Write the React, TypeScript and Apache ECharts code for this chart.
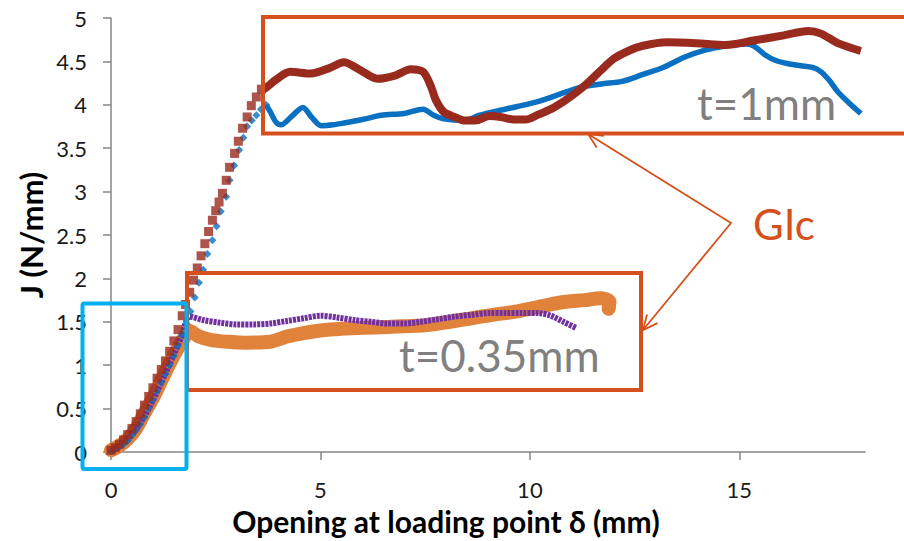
import React, { useEffect, useRef } from "react";
import * as echarts from "echarts";

// ---- Data ----
// t = 1 mm, specimen A (blue diamonds)
const blueRiseX = [0, 0.1, 0.2, 0.3, 0.4, 0.5, 0.6, 0.7, 0.8, 0.9, 1.0, 1.1, 1.2, 1.3, 1.4, 1.5, 1.6, 1.7, 1.8, 1.9, 2.0, 2.1, 2.2, 2.3, 2.42, 2.52, 2.62, 2.75, 2.83, 2.94, 3.06, 3.16, 3.25, 3.36, 3.47, 3.58, 3.7];
const blueRiseY = [0.01, 0.03, 0.06, 0.09, 0.13, 0.19, 0.25, 0.32, 0.4, 0.5, 0.6, 0.7, 0.8, 0.9, 1.0, 1.11, 1.22, 1.35, 1.48, 1.62, 1.78, 1.95, 2.1, 2.28, 2.44, 2.6, 2.77, 2.94, 3.13, 3.3, 3.48, 3.62, 3.75, 3.82, 3.88, 3.95, 4.0];
const blueX = [3.7, 3.8, 3.94, 4.06, 4.3, 4.58, 4.8, 5.02, 5.3, 5.56, 6.0, 6.45, 7.0, 7.45, 7.7, 7.94, 8.43, 8.8, 9.23, 9.7, 10.21, 10.7, 11.2, 11.7, 12.2, 12.7, 13.18, 13.7, 14.18, 14.7, 15.17, 15.37, 15.6, 15.87, 16.2, 16.47, 16.75, 16.95, 17.15, 17.35, 17.6, 17.9];
const blueY = [4.0, 3.92, 3.8, 3.77, 3.86, 3.97, 3.85, 3.76, 3.77, 3.79, 3.83, 3.88, 3.9, 3.95, 3.88, 3.84, 3.82, 3.88, 3.93, 3.98, 4.04, 4.12, 4.2, 4.24, 4.27, 4.35, 4.43, 4.55, 4.63, 4.68, 4.7, 4.67, 4.58, 4.51, 4.47, 4.45, 4.43, 4.38, 4.28, 4.15, 4.03, 3.9];

// t = 1 mm, specimen B (dark red squares)
const redRiseX = [0, 0.1, 0.2, 0.3, 0.4, 0.5, 0.6, 0.7, 0.8, 0.9, 1.0, 1.1, 1.2, 1.3, 1.4, 1.5, 1.6, 1.7, 1.78, 1.88, 1.97, 2.06, 2.15, 2.24, 2.33, 2.42, 2.5, 2.58, 2.66, 2.75, 2.83, 2.95, 3.04, 3.14, 3.25, 3.35, 3.47, 3.59];
const redRiseY = [0.02, 0.05, 0.09, 0.14, 0.2, 0.27, 0.35, 0.44, 0.54, 0.64, 0.74, 0.85, 0.95, 1.05, 1.16, 1.28, 1.41, 1.57, 1.7, 1.84, 1.98, 2.12, 2.26, 2.4, 2.54, 2.67, 2.78, 2.88, 2.98, 3.13, 3.28, 3.44, 3.58, 3.73, 3.86, 3.99, 4.09, 4.18];
const redX = [3.59, 3.68, 3.94, 4.28, 4.77, 5.2, 5.56, 5.95, 6.36, 6.8, 7.15, 7.45, 7.64, 7.75, 7.94, 8.2, 8.43, 8.7, 9.03, 9.3, 9.62, 9.9, 10.21, 10.5, 10.81, 11.1, 11.4, 11.7, 12.0, 12.35, 12.7, 13.27, 13.97, 14.67, 15.34, 16.06, 16.65, 16.95, 17.35, 17.9];
const redY = [4.18, 4.19, 4.29, 4.38, 4.36, 4.42, 4.49, 4.4, 4.3, 4.34, 4.41, 4.38, 4.21, 4.06, 3.92, 3.86, 3.82, 3.82, 3.87, 3.86, 3.83, 3.83, 3.89, 3.95, 4.04, 4.14, 4.26, 4.4, 4.53, 4.62, 4.68, 4.72, 4.71, 4.69, 4.74, 4.8, 4.85, 4.82, 4.71, 4.62];

// t = 0.35 mm, specimen A (orange circles)
const orangeX = [0, 0.2, 0.4, 0.6, 0.8, 1.0, 1.2, 1.4, 1.6, 1.8, 1.85, 2.1, 2.4, 2.8, 3.2, 3.8, 4.2, 4.6, 5.0, 5.5, 6.0, 6.6, 7.0, 7.5, 8.1, 8.6, 9.1, 9.7, 10.2, 10.7, 11.3, 11.7, 11.9, 11.88];
const orangeY = [0.02, 0.07, 0.15, 0.27, 0.45, 0.62, 0.82, 1.02, 1.2, 1.36, 1.4, 1.33, 1.29, 1.27, 1.26, 1.27, 1.33, 1.37, 1.4, 1.42, 1.43, 1.44, 1.45, 1.46, 1.5, 1.54, 1.58, 1.62, 1.67, 1.72, 1.75, 1.77, 1.73, 1.65];

// t = 0.35 mm, specimen B (purple crosses)
const purpleX = [0, 0.3, 0.6, 0.9, 1.2, 1.5, 1.7, 1.88, 2.2, 2.6, 3.0, 3.4, 3.8, 4.2, 4.6, 5.0, 5.4, 5.8, 6.2, 6.6, 7.0, 7.4, 7.8, 8.2, 8.6, 9.0, 9.4, 9.8, 10.2, 10.5, 10.8, 11.1];
const purpleY = [0, 0.1, 0.26, 0.5, 0.8, 1.12, 1.35, 1.56, 1.52, 1.49, 1.47, 1.47, 1.48, 1.51, 1.54, 1.57, 1.55, 1.52, 1.5, 1.48, 1.48, 1.5, 1.53, 1.56, 1.58, 1.6, 1.6, 1.6, 1.6, 1.57, 1.5, 1.43];

const xTicks = [0, 5, 10, 15];

const zip = (xs: number[], ys: number[]) => xs.map((x, i) => [x, ys[i]]);

const FONT = "Lato";
const BOX = "#D5501C";
const TXT_GRAY = "#808080";

function arrowHead(tx: number, ty: number, fx: number, fy: number, len: number) {
  const dx = tx - fx, dy = ty - fy;
  const L = Math.hypot(dx, dy);
  const ux = dx / L, uy = dy / L;
  const a = (25 * Math.PI) / 180;
  const c = Math.cos(a), s = Math.sin(a);
  const r1 = [ux * c - uy * s, ux * s + uy * c];
  const r2 = [ux * c + uy * s, -ux * s + uy * c];
  return [
    [tx - len * r1[0], ty - len * r1[1]],
    [tx, ty],
    [tx - len * r2[0], ty - len * r2[1]],
  ];
}

export default function App() {
  const ref = useRef<HTMLDivElement>(null);
  useEffect(() => {
    if (!ref.current) return;
    const chart = echarts.init(ref.current, null, { renderer: "svg" });
    const vx = 731, vy = 223;
    const t1 = [588, 134], t2 = [643, 330];
    chart.setOption({
      animation: false,
      backgroundColor: "#ffffff",
      grid: { left: 111, right: 39, top: 18, bottom: 89, containLabel: false, outerBoundsMode: "none" },
      xAxis: {
        type: "value",
        min: 0,
        max: 18,
        interval: 5,
        name: "Opening at loading point δ (mm)",
        nameLocation: "middle",
        nameGap: 54,
        nameMoveOverlap: false,
        nameTextStyle: { fontFamily: FONT, fontWeight: "bold", fontSize: 30, color: "#000", padding: [0, 84, 0, 0], lineHeight: 30 },
        axisLine: { show: true, lineStyle: { color: "#868686", width: 1.5 } },
        axisTick: { show: true, length: 8, lineStyle: { color: "#868686", width: 1.5 }, customValues: xTicks },
        axisLabel: { fontFamily: FONT, fontSize: 22, lineHeight: 22, color: "#1a1a1a", margin: 26, customValues: xTicks },
        splitLine: { show: false },
      },
      yAxis: {
        type: "value",
        min: 0,
        max: 5,
        interval: 0.5,
        name: "J (N/mm)",
        nameLocation: "middle",
        nameGap: 62,
        nameMoveOverlap: false,
        nameTextStyle: { fontFamily: FONT, fontWeight: "bold", fontSize: 31, color: "#000", lineHeight: 36 },
        axisLine: { show: true, lineStyle: { color: "#868686", width: 1.5 } },
        axisTick: { show: true, length: 8, lineStyle: { color: "#868686", width: 1.5 } },
        axisLabel: { fontFamily: FONT, fontSize: 22, color: "#1a1a1a", margin: 24 },
        splitLine: { show: false },
      },
      series: [
        {
          name: "t=0.35mm A",
          type: "line",
          data: zip(orangeX, orangeY),
          symbol: "none",
          smooth: 0.3,
          lineStyle: { color: "#E0823A", width: 14, cap: "round", join: "round" },
          z: 2,
        },
        {
          name: "t=0.35mm B",
          type: "line",
          data: zip(purpleX, purpleY),
          symbol: "none",
          smooth: 0.3,
          lineStyle: { color: "#7030A0", width: 6, type: [3, 1], cap: "butt", join: "round" },
          z: 3,
        },
        {
          name: "t=1mm A rise",
          type: "scatter",
          data: zip(blueRiseX, blueRiseY),
          symbol: "diamond",
          symbolSize: 8,
          itemStyle: { color: "#0A70C2" },
          z: 4,
        },
        {
          name: "t=1mm A",
          type: "line",
          data: zip(blueX, blueY),
          symbol: "none",
          smooth: 0.3,
          lineStyle: { color: "#0A70C2", width: 5.5, join: "round" },
          z: 4,
        },
        {
          name: "t=1mm B rise",
          type: "scatter",
          data: zip(redRiseX, redRiseY),
          symbol: "rect",
          symbolSize: 9,
          itemStyle: { color: "#982B1E" },
          z: 5,
        },
        {
          name: "t=1mm B",
          type: "line",
          data: zip(redX, redY),
          symbol: "none",
          smooth: 0.3,
          lineStyle: { color: "#982B1E", width: 8, join: "round" },
          z: 5,
        },
      ],
      graphic: [
        { type: "rect", shape: { x: 263, y: 17, width: 700, height: 116.5 }, style: { fill: "none", stroke: BOX, lineWidth: 4 }, z: 50 },
        { type: "rect", shape: { x: 187, y: 273, width: 454, height: 117 }, style: { fill: "none", stroke: BOX, lineWidth: 4 }, z: 50 },
        { type: "rect", shape: { x: 82.5, y: 303.5, width: 104, height: 165.5, r: 2 }, style: { fill: "none", stroke: "#00B0F0", lineWidth: 4 }, z: 50 },
        { type: "polyline", shape: { points: [t1, [vx, vy], t2] }, style: { fill: "none", stroke: BOX, lineWidth: 1.8 }, z: 50 },
        { type: "polyline", shape: { points: arrowHead(t1[0], t1[1], vx, vy, 16) }, style: { fill: "none", stroke: BOX, lineWidth: 1.8 }, z: 50 },
        { type: "polyline", shape: { points: arrowHead(t2[0], t2[1], vx, vy, 16) }, style: { fill: "none", stroke: BOX, lineWidth: 1.8 }, z: 50 },
        { type: "text", x: 697, y: 103, style: { text: "t=1mm", fill: TXT_GRAY, font: `44px ${FONT}`, textAlign: "left", textVerticalAlign: "middle" }, z: 50 },
        { type: "text", x: 399, y: 355, style: { text: "t=0.35mm", fill: TXT_GRAY, font: `44px ${FONT}`, textAlign: "left", textVerticalAlign: "middle" }, z: 50 },
        { type: "text", x: 753, y: 224, style: { text: "GIc", fill: BOX, font: `42px ${FONT}`, textAlign: "left", textVerticalAlign: "middle" }, z: 50 },
      ],
    });
    return () => chart.dispose();
  }, []);
  return (
    <div
      ref={ref}
      style={{ position: "absolute", left: 0, top: 0, width: 904, height: 541, background: "#fff" }}
    />
  );
}
